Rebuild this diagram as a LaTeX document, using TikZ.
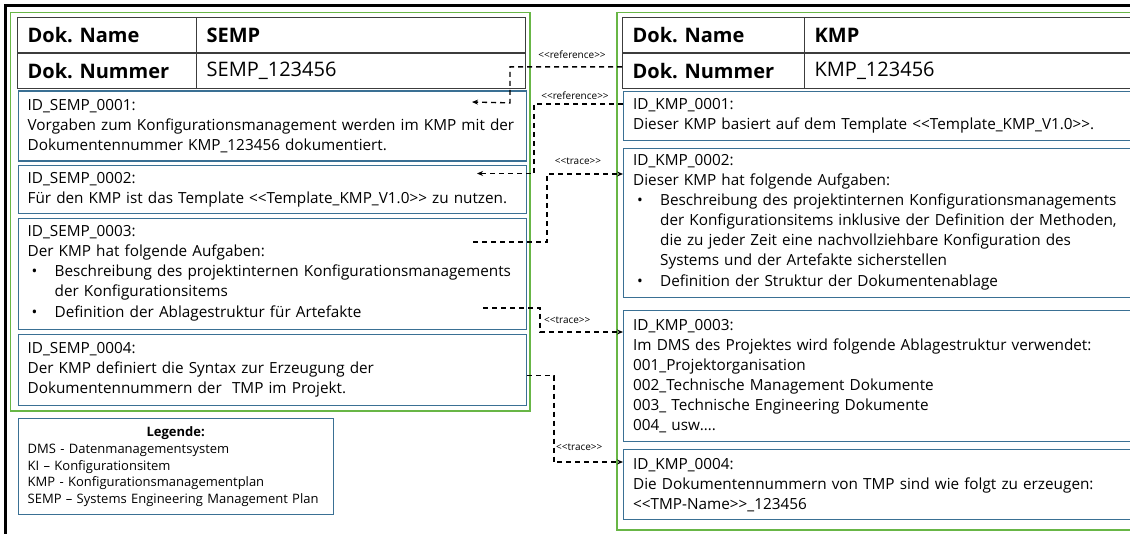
\documentclass[tikz,border=0pt]{standalone}
\usepackage{fontspec}
\setmainfont{Open Sans}
\usetikzlibrary{arrows.meta}
\frenchspacing

\definecolor{boxblue}{RGB}{58,112,148}
\definecolor{framegreen}{RGB}{104,182,70}
\definecolor{tablegray}{RGB}{60,60,60}

\newcommand{\bodyfont}{\fontsize{15.3}{20}\selectfont}
\newcommand{\headfont}{\fontsize{20}{22}\selectfont}
\newcommand{\legfont}{\fontsize{13}{16.7}\selectfont}
\newcommand{\tagfont}{\fontsize{10}{12}\selectfont}
% bullet with hanging lines
\newcommand{\bitem}[1]{\makebox[27pt][l]{\hspace{4pt}\textbullet}\begin{tabular}[t]{@{}l@{}}#1\end{tabular}}

\tikzset{
  frame/.style={draw=framegreen, line width=1.6pt},
  hcell/.style={draw=tablegray, line width=1.3pt, anchor=north west,
    inner xsep=10pt, inner ysep=0pt, minimum height=35.5pt,
    text width=#1, align=left, font=\headfont},
  idbox/.style={draw=boxblue, line width=1.3pt, anchor=north west,
    inner xsep=9.5pt, inner ysep=0pt, text width=#1, align=left,
    font=\bodyfont},
  conn/.style={draw=black, line width=1.4pt, dash pattern=on 5pt off 4pt},
  tip/.style={-{Stealth[length=6pt,width=5pt]}},
  tag/.style={font=\tagfont, inner sep=0pt}
}

\begin{document}
\begin{tikzpicture}[x=1pt,y=-1pt]
\useasboundingbox (0,0) rectangle (1130,534);
\clip (0,0) rectangle (1130,534);
\fill[white] (0,0) rectangle (1130,534);

% outer sheet border
\draw[black, line width=2.2pt] (5.5,560) -- (5.5,5.5) -- (1160,5.5);

% ---------- SEMP (left document) ----------
\draw[frame] (10.5,12.5) rectangle (530,411);

\node[hcell=159pt, font=\headfont\bfseries] (sn)  at (17,17)   {Dok. Name};
\node[hcell=309pt, font=\headfont\bfseries] (snv) at (196,17)  {SEMP};
\node[hcell=159pt, font=\headfont\bfseries] (sr)  at (17,52.5) {Dok. Nummer};
\node[hcell=309pt] (srv) at (196,52.5) {SEMP\_123456};

\node[idbox=489pt, minimum height=70pt] (s1) at (17.5,90.5)
  {ID\_SEMP\_0001:\\
   Vorgaben zum Konfigurationsmanagement werden im KMP mit der\\
   Dokumentennummer KMP\_123456 dokumentiert.};
\node[idbox=489pt, minimum height=48pt] (s2) at (17.5,165)
  {ID\_SEMP\_0002:\\
   Für den KMP ist das Template <{}<Template\_KMP\_V1.0>{}> zu nutzen.};
\node[idbox=489pt, minimum height=111pt] (s3) at (17.5,218)
  {ID\_SEMP\_0003:\\
   Der KMP hat folgende Aufgaben:\\
   \bitem{Beschreibung des projektinternen Konfigurationsmanagements\\der Konfigurationsitems}\\
   \bitem{Definition der Ablagestruktur für Artefakte}};
\node[idbox=489pt, minimum height=71pt] (s4) at (17.5,334)
  {ID\_SEMP\_0004:\\
   Der KMP definiert die Syntax zur Erzeugung der\\
   Dokumentennummern der \ TMP im Projekt.};

% legend
\node[idbox=296pt, minimum height=96pt, font=\legfont] (leg) at (17.5,418)
  {\makebox[296pt][c]{\textbf{Legende:}}\\
   DMS - Datenmanagementsystem\\
   KI – Konfigurationsitem\\
   KMP - Konfigurationsmanagementplan\\
   \mbox{SEMP – Systems Engineering Management Plan}};

% ---------- KMP (right document) ----------
\draw[frame] (617,12.5) rectangle (1170,530);

\node[hcell=162pt, font=\headfont\bfseries] (kn)  at (622,17)   {Dok. Name};
\node[hcell=346pt, font=\headfont\bfseries] (knv) at (804,17)   {KMP};
\node[hcell=162pt, font=\headfont\bfseries] (kr)  at (622,52.5) {Dok. Nummer};
\node[hcell=346pt] (krv) at (804,52.5) {KMP\_123456};

\node[idbox=520pt, minimum height=49pt] (k1) at (623,91)
  {ID\_KMP\_0001:\\
   Dieser KMP basiert auf dem Template <{}<Template\_KMP\_V1.0>{}>.};
\node[idbox=520pt, minimum height=149pt] (k2) at (623,148)
  {ID\_KMP\_0002:\\
   Dieser KMP hat folgende Aufgaben:\\
   \bitem{Beschreibung des projektinternen Konfigurationsmanagements\\
          der Konfigurationsitems inklusive der Definition der Methoden,\\
          die zu jeder Zeit eine nachvollziehbare Konfiguration des\\
          Systems und der Artefakte sicherstellen}\\
   \bitem{Definition der Struktur der Dokumentenablage}};
\node[idbox=520pt, minimum height=131pt] (k3) at (623,310)
  {ID\_KMP\_0003:\\
   Im DMS des Projektes wird folgende Ablagestruktur verwendet:\\
   001\_Projektorganisation\\
   002\_Technische Management Dokumente\\
   003\_ Technische Engineering Dokumente\\
   004\_ usw\dots.};
\node[idbox=520pt, minimum height=70pt] (k4) at (623,449)
  {ID\_KMP\_0004:\\
   Die Dokumentennummern von TMP sind wie folgt zu erzeugen:\\
   <{}<TMP-Name>{}>\_123456};

% ---------- connectors ----------
\coordinate (r1end) at (472,102);
\coordinate (r2end) at (477,173.5);
\coordinate (t3from) at (473,242);
\coordinate (t4from) at (483,308);

\draw[conn, tip] ([yshift=4pt]kr.west) -- ++(-112,0) -- ++(0,36) -- (r1end);
\draw[conn, tip] ([yshift=-13pt]k1.north west) -- ++(-89,0) |- (r2end);
\draw[conn, tip] (t3from) -- ++(74,0) |- ([yshift=-26pt]k2.north west);
\draw[conn, tip] (t4from) -- ++(57,0) |- ([yshift=-22pt]k3.north west);
\draw[conn, tip] ([yshift=-5.5pt]s4.east) -- ++(27,0) |- ([yshift=-13pt]k4.north west);

\node[tag] (l1) at (572,55)  {<{}<reference>{}>};
\node[tag] (l2) at (575,95.5){<{}<reference>{}>};
\node[tag] (l3) at (578,161) {<{}<trace>{}>};
\node[tag, anchor=west] (l4) at (544,320) {<{}<trace>{}>};
\node[tag, anchor=west] (l5) at (556,447) {<{}<trace>{}>};
\end{tikzpicture}
\end{document}
